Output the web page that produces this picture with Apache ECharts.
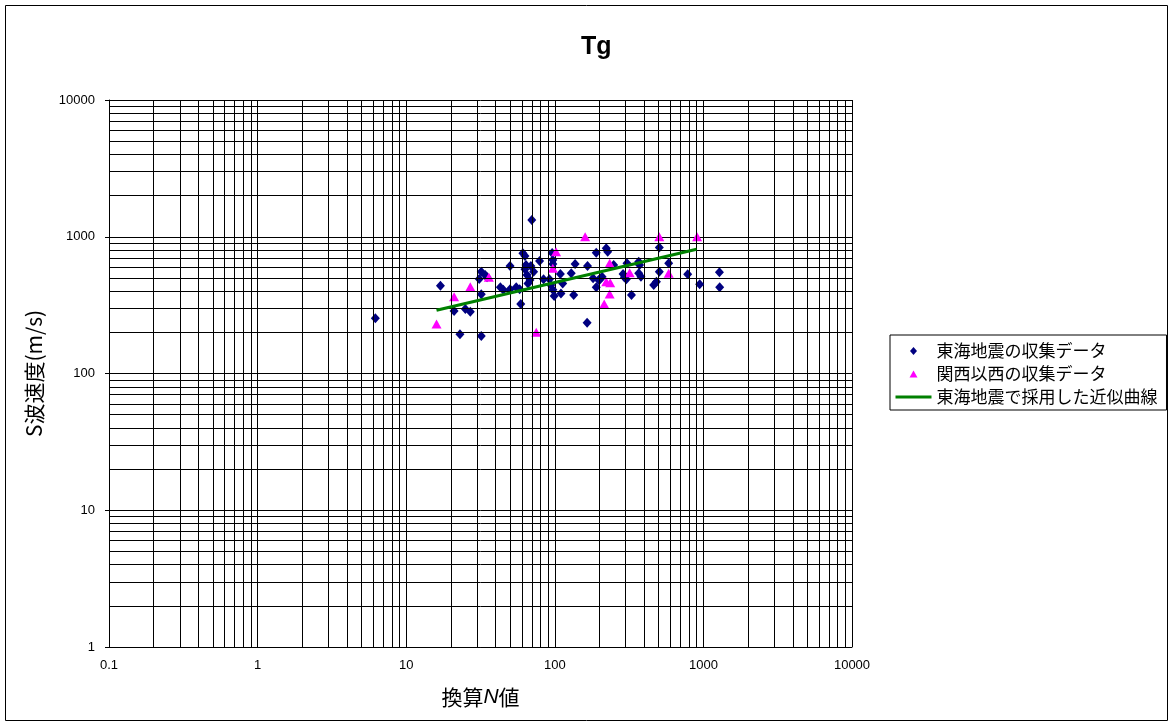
<!DOCTYPE html>
<html>
<head>
<meta charset="utf-8">
<title>Tg</title>
<script src="https://cdn.jsdelivr.net/npm/echarts@6/dist/echarts.min.js"></script>
<style>
  html, body { margin: 0; padding: 0; background: #fff; }
  #chart { width: 1170px; height: 726px; }
</style>
</head>
<body>
<div id="chart"></div>
<script>
// 東海地震の収集データ: [換算N値, S波速度(m/s)]
const tokaiData = [
  [6.2, 253], [17, 438], [21, 286], [25, 296], [27, 283], [23, 194], [32, 188],
  [32, 380], [32, 555], [34, 525], [31, 490], [35, 505], [43, 427], [45, 410],
  [50, 413], [55, 427], [58, 413], [59, 322], [50, 611], [61, 757], [63, 723],
  [64, 621], [65, 525], [66, 456], [69, 611], [63, 578], [72, 555], [70, 1326],
  [68, 483], [79, 665], [84, 489], [92, 489], [94, 444], [97, 410], [99, 369],
  [110, 385], [134, 375], [97, 676], [97, 631], [109, 534], [113, 456], [137, 632],
  [129, 540], [166, 611], [190, 764], [222, 823], [227, 778], [181, 497], [197, 483],
  [208, 510], [190, 427], [165, 235], [249, 621], [306, 640], [367, 657], [372, 621],
  [584, 640], [288, 534], [303, 489], [294, 506], [367, 541], [380, 510], [505, 555],
  [505, 835], [463, 444], [483, 469], [784, 531], [944, 449], [1282, 550], [1287, 427],
  [328, 375], [202, 489], [96, 760]
];

// 関西以西の収集データ
const kansaiData = [
  [16, 230], [21, 364], [27, 430], [36, 505], [75, 200], [97, 588], [102, 778],
  [160, 1000], [234, 640], [222, 469], [236, 461], [234, 381], [215, 322],
  [319, 546], [505, 1000], [584, 541], [907, 1000]
];

// 東海地震で採用した近似曲線 (end points)
const fitLine = [[16, 290], [900, 810]];

// axis ranges and log grid steps
const xRange = [0.1, 10000];
const yRange = [1, 10000];
const minorSteps = [2, 3, 4, 5, 6, 7, 8, 9];

function minorValues(range) {
  const out = [];
  for (let d = range[0]; d < range[1]; d *= 10) {
    minorSteps.forEach(m => out.push(+(d * m).toPrecision(6)));
  }
  return out;
}

const plainNumber = v => String(+Number(v).toPrecision(6));

const latinFont = 'Liberation Sans, Arial, sans-serif';
const jpFont = '"Noto Sans CJK JP", sans-serif';

// legend icons: a small marker centred in a 36x8 box (leading moves fix the box size)
const legendDiamond = 'path://M0 0M36 8M18 0L21.5 4L18 8L14.5 4Z';
const legendTriangle = 'path://M0 0M36 8M18 0.5L22 7.5L14 7.5Z';

const chart = echarts.init(document.getElementById('chart'), null, { renderer: 'canvas' });

const gridLineStyle = { color: '#000', width: 1, type: 'solid' };

chart.setOption({
  animation: false,
  backgroundColor: '#fff',
  title: {
    text: 'Tg',
    left: 576,
    top: 30,
    textStyle: {
      fontFamily: '"Liberation Sans Narrow", "Liberation Sans", Arial, sans-serif',
      fontSize: 25,
      fontWeight: 'bold',
      color: '#000'
    }
  },
  legend: {
    left: 890,
    top: 335,
    orient: 'vertical',
    backgroundColor: '#fff',
    borderColor: '#000',
    borderWidth: 1,
    borderRadius: 0,
    padding: [7, 9, 4, 4],
    itemWidth: 36,
    itemHeight: 8,
    itemGap: 5,
    textStyle: { fontFamily: jpFont, fontSize: 17, lineHeight: 18, color: '#000' },
    data: [
      { name: '東海地震の収集データ', icon: legendDiamond },
      { name: '関西以西の収集データ', icon: legendTriangle },
      { name: '東海地震で採用した近似曲線', itemStyle: { opacity: 0 }, lineStyle: { width: 3 } }
    ]
  },
  grid: { left: 109, top: 100, width: 743, height: 547, containLabel: false },
  xAxis: {
    type: 'log',
    logBase: 10,
    min: xRange[0],
    max: xRange[1],
    name: '換算{i|N}値',
    nameLocation: 'middle',
    nameGap: 40,
    nameTextStyle: {
      fontFamily: jpFont,
      fontSize: 21,
      color: '#000',
      rich: { i: { fontFamily: latinFont, fontStyle: 'italic', fontSize: 21, color: '#000' } }
    },
    axisLine: { show: true, lineStyle: { color: '#000', width: 1 } },
    axisTick: { show: false },
    axisLabel: {
      fontFamily: latinFont, fontSize: 13, color: '#000', margin: 12,
      formatter: plainNumber
    },
    splitLine: { show: true, lineStyle: gridLineStyle }
  },
  yAxis: {
    type: 'log',
    logBase: 10,
    min: yRange[0],
    max: yRange[1],
    name: 'S波速度(m/s)',
    nameLocation: 'middle',
    nameGap: 64,
    nameRotate: 90,
    nameTextStyle: { fontFamily: jpFont, fontSize: 21, color: '#000' },
    axisLine: { show: true, lineStyle: { color: '#000', width: 1 } },
    axisTick: { show: true, inside: false, length: 4, lineStyle: { color: '#000' } },
    axisLabel: {
      fontFamily: latinFont, fontSize: 13, color: '#000', margin: 14,
      formatter: plainNumber
    },
    splitLine: { show: true, lineStyle: gridLineStyle }
  },
  series: [
    {
      // minor log grid lines (2..9 in every decade)
      name: 'grid',
      type: 'line',
      data: [],
      silent: true,
      z: 1,
      markLine: {
        silent: true,
        symbol: 'none',
        animation: false,
        label: { show: false },
        lineStyle: { color: '#000', width: 1, type: 'solid', opacity: 1 },
        emphasis: { disabled: true },
        data: [
          ...minorValues(xRange).map(v => ({ xAxis: v })),
          ...minorValues(yRange).map(v => ({ yAxis: v }))
        ]
      }
    },
    {
      name: '東海地震の収集データ',
      type: 'scatter',
      symbol: 'diamond',
      symbolSize: [9, 10],
      itemStyle: { color: '#000080', opacity: 1 },
      z: 3,
      data: tokaiData
    },
    {
      name: '関西以西の収集データ',
      type: 'scatter',
      symbol: 'triangle',
      symbolSize: [10, 9],
      itemStyle: { color: '#FF00FF', opacity: 1 },
      z: 4,
      data: kansaiData
    },
    {
      name: '東海地震で採用した近似曲線',
      type: 'line',
      symbol: 'none',
      lineStyle: { color: '#008000', width: 3 },
      itemStyle: { color: '#008000' },
      z: 5,
      data: fitLine
    }
  ],
  graphic: [
    {
      type: 'rect',
      silent: true,
      shape: { x: 5.5, y: 5.5, width: 1162, height: 715 },
      style: { fill: 'none', stroke: '#000', lineWidth: 1 }
    }
  ]
});
</script>
</body>
</html>
